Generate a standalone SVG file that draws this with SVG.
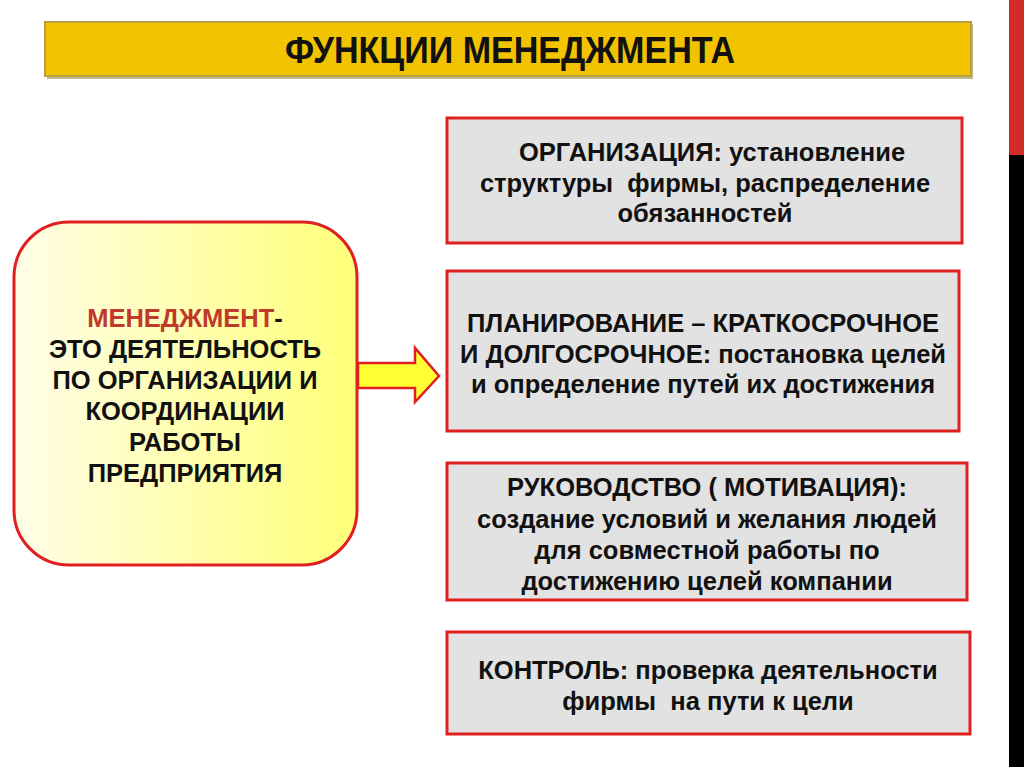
<svg xmlns="http://www.w3.org/2000/svg" width="1024" height="767" viewBox="0 0 1024 767">
<defs>
<linearGradient id="yg" x1="0" y1="0" x2="1" y2="0">
<stop offset="0" stop-color="#FFFDE8"/>
<stop offset="1" stop-color="#FFFF7A"/>
</linearGradient>
<style>
.box{fill:#E2E2E2;stroke:#E02020;stroke-width:3}
.t{font-family:"Liberation Sans",Arial,sans-serif;font-weight:bold;font-size:25.5px;fill:#111;text-anchor:middle}
.ttl{font-family:"Liberation Sans Narrow","Liberation Sans",Arial,sans-serif;font-weight:bold;font-size:37px;fill:#111;text-anchor:middle}
</style>
</defs>
<rect x="0" y="0" width="1024" height="767" fill="#FFFFFF"/>
<rect x="1009" y="0" width="15" height="155" fill="#D42A2A"/>
<rect x="1009" y="155" width="15" height="612" fill="#000000"/>
<g id="title">
<rect x="47" y="24" width="926" height="55" fill="#9A8A40" opacity="0.6"/>
<rect x="45" y="22" width="926" height="54" fill="#F2C300" stroke="#B8A040" stroke-width="2"/>
<text class="ttl" x="510" y="63" textLength="450" lengthAdjust="spacingAndGlyphs">ФУНКЦИИ МЕНЕДЖМЕНТА</text>
</g>
<g id="management">
<rect x="14" y="222" width="343" height="343" rx="55" fill="url(#yg)" stroke="#E02020" stroke-width="3"/>
<text class="t" x="185" y="327"><tspan fill="#C0392B">МЕНЕДЖМЕНТ</tspan>-</text>
<text class="t" x="185" y="358">ЭТО ДЕЯТЕЛЬНОСТЬ</text>
<text class="t" x="185" y="389">ПО ОРГАНИЗАЦИИ И</text>
<text class="t" x="185" y="420">КООРДИНАЦИИ</text>
<text class="t" x="185" y="451">РАБОТЫ</text>
<text class="t" x="185" y="482">ПРЕДПРИЯТИЯ</text>
</g>
<g id="connectors">
<polygon points="358,363 415,363 415,348 439,376 415,402 415,388 358,388" fill="#FFFF33" stroke="#E02020" stroke-width="2.5" stroke-linejoin="miter"/>
</g>
<g id="organization">
<rect class="box" x="447" y="118" width="515" height="125"/>
<text class="t" x="712" y="161">ОРГАНИЗАЦИЯ: установление</text>
<text class="t" x="705" y="192" xml:space="preserve">структуры  фирмы, распределение</text>
<text class="t" x="705" y="222">обязанностей</text>
</g>
<g id="planning">
<rect class="box" x="447" y="271" width="512" height="160"/>
<text class="t" x="703" y="332">ПЛАНИРОВАНИЕ – КРАТКОСРОЧНОЕ</text>
<text class="t" x="703" y="363">И ДОЛГОСРОЧНОЕ: постановка целей</text>
<text class="t" x="703" y="393">и определение путей их достижения</text>
</g>
<g id="leadership">
<rect class="box" x="447" y="463" width="520" height="137"/>
<text class="t" x="707" y="496">РУКОВОДСТВО ( МОТИВАЦИЯ):</text>
<text class="t" x="707" y="528">создание условий и желания людей</text>
<text class="t" x="707" y="559">для совместной работы по</text>
<text class="t" x="707" y="590">достижению целей компании</text>
</g>
<g id="control">
<rect class="box" x="447" y="632" width="523" height="102"/>
<text class="t" x="708" y="679">КОНТРОЛЬ: проверка деятельности</text>
<text class="t" x="708" y="710" xml:space="preserve">фирмы  на пути к цели</text>
</g>
</svg>
